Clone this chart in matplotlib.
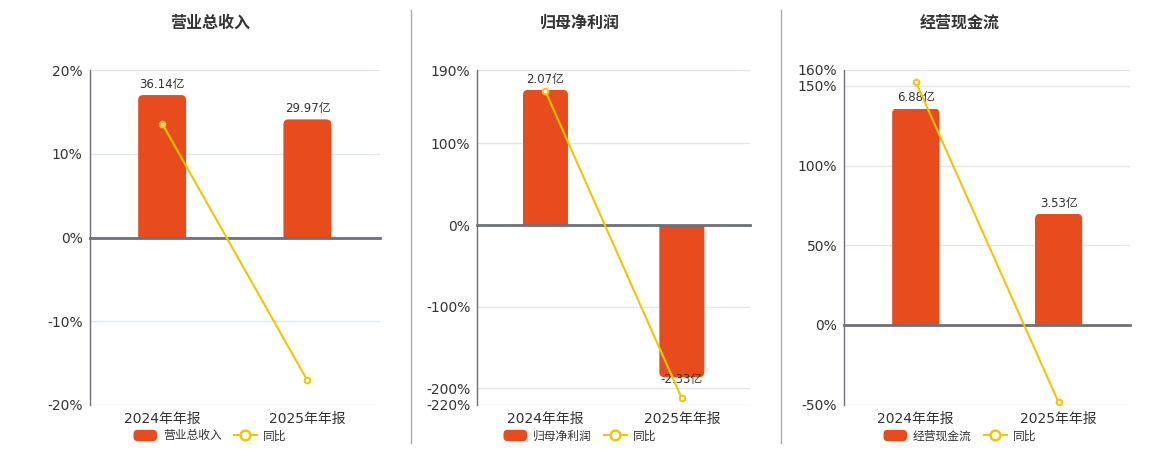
import matplotlib
matplotlib.use("Agg")
import matplotlib.pyplot as plt
from matplotlib.patches import FancyBboxPatch, Patch
from matplotlib.lines import Line2D
from matplotlib.transforms import IdentityTransform, blended_transform_factory, Bbox
from matplotlib.legend_handler import HandlerPatch
import numpy as np

plt.rcParams['font.family'] = ['DejaVu Sans', 'Noto Sans CJK SC']

# ---- data ----
categories = ["2024年年报", "2025年年报"]
titles = ["营业总收入", "归母净利润", "经营现金流"]
bar_values = [[36.14, 29.97], [2.07, -2.33], [6.88, 3.53]]
bar_labels = [["36.14亿", "29.97亿"], ["2.07亿", "-2.33亿"], ["6.88亿", "3.53亿"]]
yoy_values = [[13.6, -17.07], [163.8, -212.56], [152.6, -48.69]]
pct_ticks = [[-20, -10, 0, 10, 20], [-220, -200, -100, 0, 100, 190], [-50, 0, 50, 100, 150, 160]]
pct_limits = [(-20, 20), (-220, 190), (-50, 160)]
bar_limits = [(-42.5, 42.5), (-2.75, 2.375), (-2.533, 8.105)]

# ---- style ----
BAR_C = "#E84C1D"
LINE_C = "#F2C600"
AXIS_C = "#6E7079"
GRID_C = "#E0E6F1"
TEXT_C = "#333333"

W, H = 1160, 450
fig = plt.figure(figsize=(W / 100, H / 100), dpi=100)

# axes rectangles in pixels: left, right, top, bottom
rects = [(89.5, 380, 70, 405), (477.3, 750, 70, 404.5), (844.3, 1130, 70, 404.5)]
centers = [210, 580, 960]


def px_axes(l, r, t, b):
    return [l / W, (H - b) / H, (r - l) / W, (b - t) / H]


class RoundPatchHandler(HandlerPatch):
    def create_artists(self, legend, orig_handle, xdescent, ydescent, width, height,
                       fontsize, trans):
        p = FancyBboxPatch((-xdescent, -ydescent), width, height,
                           boxstyle="round,pad=0,rounding_size=3",
                           facecolor=orig_handle.get_facecolor(), edgecolor='none',
                           transform=trans)
        return [p]


for k in range(3):
    l, r, t, b = rects[k]
    ax = fig.add_axes(px_axes(l, r, t, b))
    ax2 = ax.twinx()
    ax3 = ax.twinx()
    x = np.arange(len(categories))
    for a in (ax, ax2, ax3):
        a.set_xlim(-0.5, len(categories) - 0.5)
        for s in a.spines.values():
            s.set_visible(False)
        a.patch.set_visible(False)
    ax.set_ylim(*pct_limits[k])
    ax3.set_ylim(*pct_limits[k])
    ax2.set_ylim(*bar_limits[k])

    ax.set_yticks(pct_ticks[k])
    ax.set_yticklabels([f"{v}%" for v in pct_ticks[k]], fontsize=10, color=TEXT_C)
    ax.tick_params(axis='y', length=0, pad=5)
    ax.grid(axis='y', color=GRID_C, linewidth=1)
    ax.set_axisbelow(True)
    ax.spines['left'].set_visible(True)
    ax.spines['left'].set_color(AXIS_C)
    ax.spines['left'].set_linewidth(1)
    ax2.set_yticks([])
    ax3.set_yticks([])

    ax.set_xticks(np.arange(-0.5, len(categories), 1.0))
    ax.set_xticklabels([])
    ax.tick_params(axis='x', bottom=False, labelbottom=False)
    ax2.tick_params(axis='x', bottom=False, labelbottom=False)
    ax3.spines['bottom'].set_visible(True)
    ax3.spines['bottom'].set_position(('data', 0))
    ax3.spines['bottom'].set_color(AXIS_C)
    ax3.spines['bottom'].set_linewidth(2)
    ax3.tick_params(axis='x', bottom=True, labelbottom=False, length=5, width=1,
                    color=AXIS_C, direction='out')

    # category labels
    tr = blended_transform_factory(ax.transData, ax.transAxes)
    for i, c in enumerate(categories):
        ax.text(i, -0.022, c, transform=tr, ha='center', va='top', fontsize=10, color=TEXT_C)

    # bars with rounded outer corners
    bw = 0.33
    bars = ax2.bar(x, bar_values[k], bw, color=BAR_C)
    rad = 5
    for i, rect in enumerate(bars):
        rect.set_visible(False)
        v = bar_values[k][i]
        (x0, y0) = ax2.transData.transform((x[i] - bw / 2, 0))
        (x1, y1) = ax2.transData.transform((x[i] + bw / 2, v))
        lo, hi = min(y0, y1), max(y0, y1)
        if v >= 0:
            blo, bhi = lo - 2 * rad, hi
        else:
            blo, bhi = lo, hi + 2 * rad
        fb = FancyBboxPatch((x0, blo), x1 - x0, bhi - blo,
                            boxstyle=f"round,pad=0,rounding_size={rad}",
                            transform=IdentityTransform(), facecolor=BAR_C,
                            edgecolor='none', zorder=2)
        ax2.add_artist(fb)
        fb.set_clip_path(None)
        fb.set_clip_box(Bbox([[x0 - 1, lo], [x1 + 1, hi]]))
        fb.set_clip_on(True)
        if v >= 0:
            ax2.annotate(bar_labels[k][i], (x[i], v), xytext=(0, 3), textcoords='offset points',
                         ha='center', va='bottom', fontsize=8.5, color=TEXT_C)
        else:
            ax2.annotate(bar_labels[k][i], (x[i], v), xytext=(0, 3), textcoords='offset points',
                         ha='center', va='top', fontsize=8.5, color=TEXT_C, zorder=3)

    # yoy line
    ax3.plot(x, yoy_values[k], color=LINE_C, linewidth=1.5, marker='o', markersize=4,
             markerfacecolor='white', markeredgecolor=LINE_C, markeredgewidth=1.5, zorder=5)

    # title
    fig.text(centers[k] / W, 1 - 23 / H, titles[k], ha='center', va='center',
             fontsize=11.5, fontweight='bold', color=TEXT_C)

    # legend
    handles = [Patch(facecolor=BAR_C, edgecolor='none', label=titles[k]),
               Line2D([], [], color=LINE_C, linewidth=1.5, marker='o', markersize=7,
                      markerfacecolor='white', markeredgecolor=LINE_C, markeredgewidth=1.8,
                      label="同比")]
    leg = fig.legend(handles=handles, loc='center', ncol=2,
                     bbox_to_anchor=(centers[k] / W, 14 / H), frameon=False,
                     fontsize=8.5, handlelength=2.0, handleheight=1.1, handletextpad=0.5,
                     columnspacing=1.0, borderpad=0,
                     handler_map={Patch: RoundPatchHandler()})
    for txt in leg.get_texts():
        txt.set_color(TEXT_C)

# separators
for xs in (410.5, 781):
    fig.add_artist(Line2D([xs / W, xs / W], [1 - 10 / H, 1 - 443 / H],
                          color="#AAAAAA", linewidth=1, transform=fig.transFigure))

fig.savefig("out.png", dpi=100)
